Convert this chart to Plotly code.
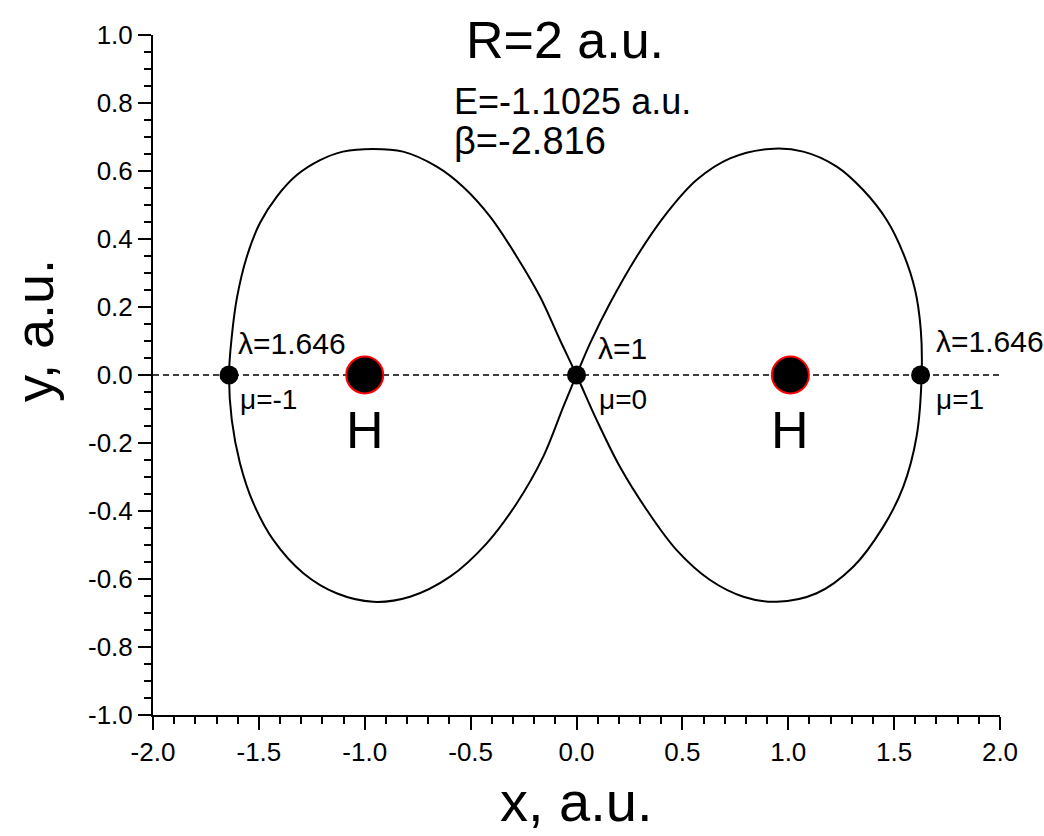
import plotly.graph_objects as go

# Figure-eight curve, path: centre -> right lobe -> centre -> left lobe -> centre
curve_x = [0.0, 0.064, 0.158, 0.284, 0.426, 0.568, 0.725, 0.914, 1.071, 1.229, 1.354, 1.465, 1.543, 1.599, 1.626, 1.630,
           1.606, 1.543, 1.449, 1.307, 1.134, 0.945, 0.788, 0.631, 0.473, 0.332, 0.205, 0.095, 0.0,
           -0.078, -0.172, -0.282, -0.408, -0.536, -0.660, -0.819, -0.961, -1.103, -1.211, -1.321, -1.416, -1.495, -1.557, -1.603, -1.628, -1.641,
           -1.628, -1.589, -1.526, -1.432, -1.290, -1.133, -0.960, -0.786, -0.597, -0.424, -0.282, -0.157, -0.062, 0.0]
curve_y = [0.0, 0.093, 0.211, 0.348, 0.476, 0.574, 0.637, 0.665, 0.657, 0.613, 0.544, 0.456, 0.358, 0.250, 0.132, 0.0,
           -0.181, -0.329, -0.446, -0.564, -0.642, -0.667, -0.652, -0.603, -0.515, -0.397, -0.270, -0.132, 0.0,
           0.103, 0.230, 0.348, 0.466, 0.554, 0.613, 0.657, 0.665, 0.657, 0.632, 0.588, 0.524, 0.447, 0.348, 0.229, 0.113, 0.0,
           -0.132, -0.260, -0.377, -0.485, -0.583, -0.642, -0.667, -0.652, -0.593, -0.495, -0.377, -0.240, -0.093, 0.0]

# Turning points (lambda, mu) on the axis
point_x = [-1.641, 0.0, 1.625]
point_y = [0.0, 0.0, 0.0]

# Nuclei
nuc_x = [-1.0, 1.01]
nuc_y = [0.0, 0.0]

# Axis baseline
base_x = [-2.0, 2.0]
base_y = [0.0, 0.0]

xtick_vals = [-2.0, -1.5, -1.0, -0.5, 0.0, 0.5, 1.0, 1.5, 2.0]
xtick_text = ["-2.0", "-1.5", "-1.0", "-0.5", "0.0", "0.5", "1.0", "1.5", "2.0"]
ytick_vals = [-1.0, -0.8, -0.6, -0.4, -0.2, 0.0, 0.2, 0.4, 0.6, 0.8, 1.0]
ytick_text = ["-1.0", "-0.8", "-0.6", "-0.4", "-0.2", "0.0", "0.2", "0.4", "0.6", "0.8", "1.0"]

FONT = "Arial, Liberation Sans, sans-serif"

fig = go.Figure()
fig.add_trace(go.Scatter(x=base_x, y=base_y, mode="lines",
                         line=dict(color="black", width=1.5, dash="6px,4px"), hoverinfo="skip"))
fig.add_trace(go.Scatter(x=curve_x, y=curve_y, mode="lines",
                         line=dict(color="black", width=2, shape="spline", smoothing=1.0)))
fig.add_trace(go.Scatter(x=point_x, y=point_y, mode="markers",
                         marker=dict(color="black", size=19, line=dict(width=0))))
fig.add_trace(go.Scatter(x=nuc_x, y=nuc_y, mode="markers",
                         marker=dict(color="black", size=37, line=dict(color="red", width=2))))

def txt(x, y, s, size, xanchor="left"):
    fig.add_annotation(x=x, y=y, xref="x", yref="y", text=s, showarrow=False,
                       xanchor=xanchor, yanchor="middle", font=dict(family=FONT, size=size, color="black"))

txt(-0.530, 0.985, "R=2 a.u.", 52)
txt(-0.590, 0.803, "E=-1.1025 a.u.", 36)
txt(-0.590, 0.688, "β=-2.816", 38)
txt(-1.610, 0.094, "λ=1.646", 30)
txt(-1.600, -0.072, "μ=-1", 28)
txt(0.092, 0.079, "λ=1", 30)
txt(0.095, -0.072, "μ=0", 28)
txt(1.688, 0.100, "λ=1.646", 30)
txt(1.688, -0.072, "μ=1", 28)
txt(-1.0, -0.162, "H", 52, "center")
txt(1.01, -0.162, "H", 52, "center")

fig.add_annotation(x=0.5, y=-0.127, xref="paper", yref="paper", text="x, a.u.", showarrow=False,
                   xanchor="center", yanchor="middle", font=dict(family=FONT, size=56, color="black"))
fig.add_annotation(x=-0.1405, y=0.566, xref="paper", yref="paper", text="y, a.u.", showarrow=False,
                   textangle=-90, xanchor="center", yanchor="middle", font=dict(family=FONT, size=54, color="black"))

axis_common = dict(showgrid=False, zeroline=False, showline=True, linecolor="black", linewidth=2,
                   ticks="outside", ticklen=13, tickwidth=2, tickcolor="black",
                   tickfont=dict(family=FONT, size=26, color="black"), mirror=False)

fig.update_xaxes(range=[-2.0, 2.0], tickvals=xtick_vals, ticktext=xtick_text,
                 minor=dict(ticks="outside", ticklen=7, tickwidth=2, tickcolor="black", dtick=0.1, tick0=0),
                 **axis_common)
fig.update_yaxes(range=[-1.0, 1.0], tickvals=ytick_vals, ticktext=ytick_text,
                 minor=dict(ticks="outside", ticklen=7, tickwidth=2, tickcolor="black", dtick=0.05, tick0=0),
                 **axis_common)

fig.update_layout(width=1044, height=836, margin=dict(l=153, r=44, t=35, b=121),
                  paper_bgcolor="white", plot_bgcolor="white", showlegend=False,
                  font=dict(family=FONT, color="black"))

fig.write_html("out.html")
